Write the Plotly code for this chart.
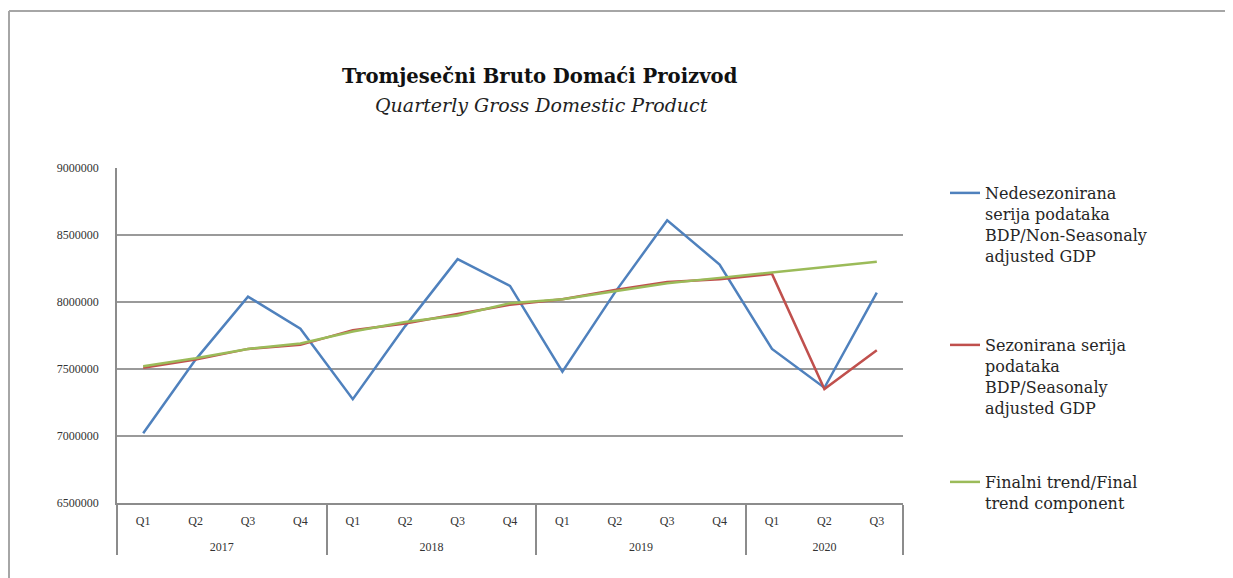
import plotly.graph_objects as go

years = ["2017"] * 4 + ["2018"] * 4 + ["2019"] * 4 + ["2020"] * 3
quarters = ["Q1", "Q2", "Q3", "Q4"] * 3 + ["Q1", "Q2", "Q3"]

non_seasonal = [7020000, 7570000, 8040000, 7800000,
                7275000, 7820000, 8320000, 8120000,
                7480000, 8070000, 8610000, 8280000,
                7650000, 7360000, 8070000]
seasonal = [7510000, 7570000, 7650000, 7680000,
            7790000, 7840000, 7910000, 7980000,
            8020000, 8090000, 8150000, 8170000,
            8210000, 7350000, 7640000]
trend = [7520000, 7580000, 7650000, 7690000,
         7780000, 7850000, 7900000, 7990000,
         8020000, 8080000, 8140000, 8180000,
         8220000, 8260000, 8300000]

names = [
    "Nedesezonirana<br>serija podataka<br>BDP/Non-Seasonaly<br>adjusted GDP",
    "Sezonirana serija<br>podataka<br>BDP/Seasonaly<br>adjusted GDP",
    "Finalni trend/Final<br>trend component",
]
colors = ["#4F81BD", "#C0504D", "#9BBB59"]
y_ticks = [6500000, 7000000, 7500000, 8000000, 8500000, 9000000]

# quarter labels get an extra blank line so the year row sits lower, as in the original
quarter_labels = [q + "<br> " for q in quarters]

fig = go.Figure()
for i, (vals, nm, col) in enumerate(zip([non_seasonal, seasonal, trend], names, colors)):
    fig.add_trace(go.Scatter(
        x=[years, quarter_labels], y=vals, mode="lines", name=nm,
        line=dict(color=col, width=2.5),
        legend="legend" if i == 0 else f"legend{i+1}",
    ))

# figure is placed at an 8px page offset; positions below are figure pixels
L, T, W, H = 109, 160, 786, 335


def px(xp):
    return (xp - L) / W


def py(yp):
    return (T + H - yp) / H


serif = "Liberation Serif"
legend_font = dict(family="DejaVu Serif", size=16, color="#262626")
common_leg = dict(xanchor="left", yanchor="top", valign="top",
                  font=legend_font, bgcolor="rgba(0,0,0,0)", itemwidth=30)

fig.update_layout(
    width=1233, height=578,
    margin=dict(l=L, r=1233 - L - W, t=T, b=578 - T - H, autoexpand=False),
    paper_bgcolor="white", plot_bgcolor="white",
    showlegend=True,
    legend=dict(x=px(937), y=py(168), **common_leg),
    legend2=dict(x=px(937), y=py(320), **common_leg),
    legend3=dict(x=px(937), y=py(457), **common_leg),
    xaxis=dict(
        type="multicategory",
        range=[-0.5, 14.5],
        showline=True, linecolor="#8c8c8c", linewidth=1.5,
        showgrid=False,
        tickfont=dict(family=serif, size=12, color="#333"),
        showdividers=True, dividercolor="#8c8c8c", dividerwidth=1.5,
        ticks="", ticklabelstandoff=6,
    ),
    yaxis=dict(
        range=[6500000, 9000000],
        tickvals=y_ticks, ticktext=[str(v) for v in y_ticks],
        showline=True, linecolor="#8c8c8c", linewidth=1.5,
        showgrid=True, gridcolor="#9a9a9a", gridwidth=1.5,
        tickfont=dict(family=serif, size=12, color="#333"),
        ticklabelstandoff=14, zeroline=False,
    ),
    annotations=[
        dict(text="<b>Tromjesečni Bruto Domaći Proizvod</b>", xref="paper", yref="paper",
             x=px(532), y=py(68), xanchor="center", yanchor="middle",
             showarrow=False, font=dict(family="DejaVu Serif", size=19.6, color="#111")),
        dict(text="<i>Quarterly Gross Domestic Product</i>", xref="paper", yref="paper",
             x=px(533), y=py(97), xanchor="center", yanchor="middle",
             showarrow=False, font=dict(family="DejaVu Serif", size=19, color="#222")),
    ],
    shapes=[
        dict(type="line", xref="paper", yref="paper",
             x0=px(1), x1=px(1240), y0=py(3), y1=py(3),
             line=dict(color="#a6a6a6", width=2)),
        dict(type="line", xref="paper", yref="paper",
             x0=px(1), x1=px(1), y0=py(3), y1=py(590),
             line=dict(color="#a6a6a6", width=2)),
    ],
)

fig.write_html("out.html")
